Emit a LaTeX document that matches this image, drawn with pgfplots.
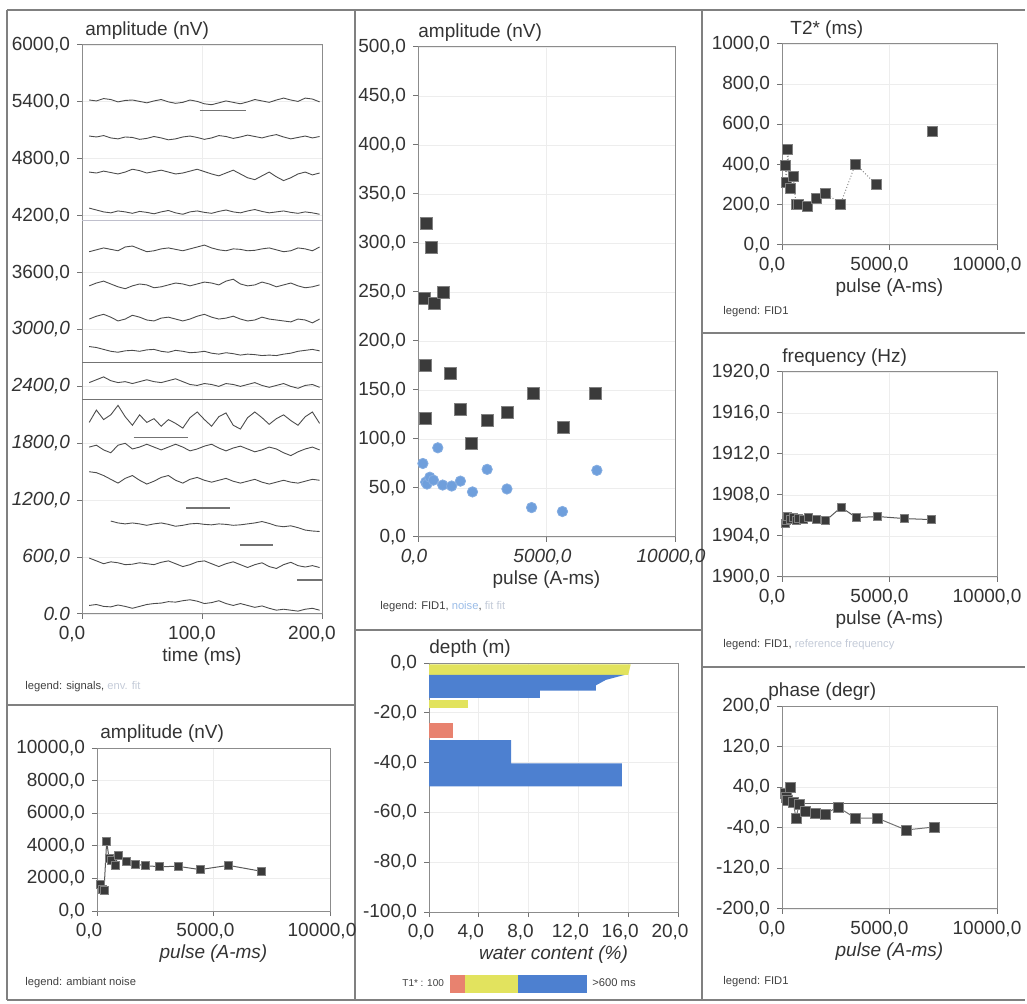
\documentclass[border=0pt]{standalone}
\usepackage{fontspec}
\setmainfont{Liberation Sans}
\usepackage{pgfplots}
\usepackage{pgfplotstable}
\pgfplotsset{compat=1.18}

\definecolor{fidgrey}{HTML}{3A3A3A}
\definecolor{noiseblue}{HTML}{6F9FDC}
\definecolor{layerblue}{HTML}{4D80D0}
\definecolor{layeryellow}{HTML}{E2E35E}
\definecolor{layerred}{HTML}{E8826F}
\definecolor{framegrey}{HTML}{808080}
\definecolor{fainttext}{HTML}{C4CBD8}

% recorded signals, one column per pulse moment (nV, offset for display)
\pgfplotstableread{
t   s1   s2   s3   s4   s5   s6   s7   s8   s9   s10  s11  s12  s13  s14  s15
6   5420 5040 4660 4280 3820 3460 3110 2820 2440 2020 1760 1500 nan  590  90
12  5410 5030 4650 4260 3840 3490 3140 2810 2470 2150 1780 1490 nan  560  100
18  5435 5045 4670 4240 3860 3510 3160 2790 2500 2050 1730 1460 nan  530  80
24  5425 5020 4655 4230 3845 3480 3130 2770 2460 2100 1700 1420 980  550  75
30  5400 5010 4640 4250 3830 3450 3090 2760 2440 2200 1780 1380 960  540  95
36  5415 5030 4660 4240 3870 3430 3110 2775 2450 2080 1800 1430 950  520  80
42  5420 5025 4690 4225 3880 3460 3150 2780 2430 1990 1740 1460 960  525  60
48  5405 5005 4675 4245 3850 3480 3130 2770 2450 2100 1760 1410 950  540  80
54  5390 5015 4650 4235 3820 3470 3100 2785 2470 2020 1790 1370 935  530  100
60  5410 5035 4665 4220 3830 3440 3090 2790 2450 2060 1760 1400 950  520  110
66  5425 5020 4680 4240 3850 3450 3120 2770 2440 1980 1730 1440 960  545  115
72  5400 5000 4660 4255 3860 3470 3130 2760 2460 2050 1760 1460 945  560  130
78  5385 5010 4640 4230 3845 3490 3110 2780 2480 2010 1790 1410 925  530  125
84  5395 5030 4650 4215 3830 3480 3090 2770 2450 1960 1760 1380 935  500  140
90  5420 5040 4670 4240 3850 3460 3110 2755 2420 2070 1720 1420 950  520  150
96  5405 5025 4690 4250 3870 3480 3140 2760 2410 2130 1740 1440 955  550  135
102 5380 5005 4665 4235 3890 3500 3160 2770 2430 2050 1770 1410 945  560  110
108 5370 5020 4640 4225 3860 3490 3130 2750 2420 1980 1790 1390 940  530  120
114 5390 5045 4620 4245 3840 3470 3110 2740 2400 2080 1750 1410 950  500  140
120 5410 5035 4650 4260 3830 3510 3120 2755 2430 2120 1720 1430 945  530  110
126 5395 5015 4680 4240 3850 3530 3140 2745 2420 1990 1750 1400 935  550  90
132 5380 5030 4640 4230 3845 3480 3110 2730 2400 1950 1770 1380 940  520  110
138 5400 5050 4600 4250 3830 3460 3090 2740 2420 2070 1740 1400 950  490  90
144 5425 5035 4580 4265 3835 3470 3100 2735 2440 2130 1710 1420 960  520  70
150 5410 5020 4620 4245 3850 3500 3130 2725 2410 2070 1730 1390 975  540  85
156 5395 5040 4660 4230 3860 3480 3110 2730 2390 2000 1760 1370 955  500  60
162 5420 5055 4610 4240 3840 3450 3100 2725 2410 2060 1740 1390 930  480  40
168 5440 5030 4570 4250 3820 3470 3090 2740 2430 2100 1700 1410 920  520  50
174 5420 5010 4600 4235 3830 3490 3080 2750 2400 2040 1670 1390 930  545  40
180 5405 5025 4640 4225 3860 3460 3110 2770 2380 1990 1710 1380 910  510  30
186 5440 5040 4660 4240 3850 3440 3100 2780 2410 2080 1740 1400 885  495  50
192 5430 5020 4630 4230 3830 3450 3070 2790 2420 2130 1760 1420 875  510  60
198 5400 5035 4650 4215 3870 3470 3110 2775 2390 2010 1730 1410 870  490  40
}\signals

\newcommand{\lblfont}{\fontsize{9.5}{11}\selectfont}
\newcommand{\legfont}{\fontsize{5.6}{6.5}\selectfont}

\pgfplotsset{
  panel/.style={
    scale only axis,
    anchor=north west,
    axis line style={draw=black!45, line width=0.5pt},
    tick align=outside,
    xtick pos=bottom, ytick pos=left,
    major tick length=2.5pt,
    tick style={draw=black!55, line width=0.5pt},
    ticklabel style={font=\lblfont, text=black!80},
    xticklabel style={xshift=-4pt},
    label style={font=\lblfont, text=black!80},
    xlabel style={yshift=4pt},
    title style={font=\lblfont, text=black!80, at={(0,1)}, anchor=south west, inner sep=0pt, yshift=-3.5pt},
    grid=major,
    grid style={draw=black!7, line width=0.4pt},
    scaled ticks=false,
    /pgf/number format/fixed,
    /pgf/number format/fixed zerofill,
    /pgf/number format/precision=1,
    /pgf/number format/use comma,
    /pgf/number format/1000 sep={},
    /pgf/number format/assume math mode=true,
  },
  fidmark/.style={mark=square*, mark options={fill=fidgrey, draw=black!50, line width=0.4pt, solid}},
  trace/.style={black!70, line width=0.45pt},
  envfit/.style={black!55, line width=0.6pt},
}

\begin{document}
\begin{tikzpicture}
\useasboundingbox (0,0) rectangle (513.5pt,-502pt);

% panel frames
\begin{scope}[framegrey, line width=0.8pt]
  \draw (3.5pt,-5pt) -- (3.5pt,-500pt);
  \draw (177.5pt,-5pt) -- (177.5pt,-500pt);
  \draw (351pt,-5pt) -- (351pt,-500pt);
  \draw (3.5pt,-5pt) -- (512.5pt,-5pt);
  \draw (3.5pt,-500pt) -- (512.5pt,-500pt);
  \draw (3.5pt,-352.5pt) -- (177.5pt,-352.5pt);
  \draw (177.5pt,-315pt) -- (351pt,-315pt);
  \draw (351pt,-166.5pt) -- (512.5pt,-166.5pt);
  \draw (351pt,-333.5pt) -- (512.5pt,-333.5pt);
\end{scope}

% ---------------- signals ----------------
\begin{axis}[panel, at={(41pt,-22.5pt)}, width=120pt, height=284.5pt,
  xmin=0, xmax=200, ymin=0, ymax=6000,
  xtick={0,100,200}, ytick={0,600,...,6000},
  xticklabels={{0,0},{100,0},{200,0}},
  yticklabels={{\itshape 0.0},{\itshape 600,0},{\itshape 1200,0},{\itshape 1800,0},{\itshape 2400,0},{\itshape 3000,0},{3600,0},{4200,0},{4800,0},{5400,0},{6000,0}},
  xticklabel style={xshift=-1pt},
  title style={xshift=1.5pt},
  title={amplitude (nV)}, xlabel={time (ms)}]
  \pgfplotsinvokeforeach{1,...,15}{\addplot[trace] table[x=t, y=s#1] {\signals};}
  % envelope fit levels
  \addplot[envfit] coordinates {(0,2650) (200,2650)};
  \addplot[envfit] coordinates {(0,2260) (200,2260)};
  \addplot[envfit] coordinates {(43,1865) (88,1865)};
  \addplot[envfit] coordinates {(87,1117) (123,1117)};
  \addplot[envfit] coordinates {(132,727) (159,727)};
  \addplot[envfit] coordinates {(179,358) (200,358)};
  \addplot[envfit] coordinates {(98,5310) (137,5310)};
  \addplot[blue!20!black!25, line width=0.6pt] coordinates {(0,4150) (200,4150)};
\end{axis}

% ---------------- ambient noise ----------------
\begin{axis}[panel, at={(48.5pt,-374pt)}, width=116.5pt, height=81.5pt,
  xmin=0, xmax=10000, ymin=0, ymax=10000,
  xtick={0,5000,10000}, ytick={0,2000,...,10000},
  title style={xshift=1.5pt},
  title={amplitude (nV)}, xlabel={\itshape pulse (A-ms)}]
  \addplot[black!65, line width=0.5pt, fidmark, mark size=2pt] coordinates {
    (150,1640) (230,1340) (300,1240) (415,4280) (520,3200) (630,3080)
    (770,2800) (915,3400) (1270,3040) (1630,2880) (2060,2780) (2680,2720)
    (3490,2740) (4420,2540) (5640,2800) (7040,2440)};
\end{axis}

% ---------------- amplitude FID1 / noise ----------------
\begin{axis}[panel, at={(209pt,-23.5pt)}, width=128.5pt, height=245pt,
  xmin=0, xmax=10000, ymin=0, ymax=500,
  xtick={0,5000,10000}, ytick={0,50,...,500},
  xticklabel style={font=\lblfont\itshape, xshift=2pt},
  title={amplitude (nV)}, xlabel={pulse (A-ms)}]
  \addplot[only marks, mark=*, mark size=2.6pt, mark options={fill=noiseblue, draw=noiseblue!85!white}] coordinates {
    (190,75) (300,56) (350,54) (460,61) (600,58) (770,91) (960,53) (1310,52)
    (1650,57) (2120,46) (2690,69) (3460,49) (4420,30) (5620,26) (6960,68)};
  \addplot[only marks, fidmark, mark size=3pt] coordinates {
    (230,243) (270,175) (270,121) (310,320) (540,295) (650,238) (1000,250)
    (1270,167) (1650,130) (2080,96) (2700,119) (3460,127) (4500,147)
    (5650,112) (6920,147)};
\end{axis}

% ---------------- water content ----------------
\begin{axis}[panel, at={(214.5pt,-331.5pt)}, width=124.5pt, height=124.5pt,
  xmin=0, xmax=20, ymin=-100, ymax=0,
  xtick={0,4,...,20}, ytick={-100,-80,...,0},
  title={depth (m)}, xlabel={\itshape water content (\%)}]
  \addplot[fill=layeryellow, draw=none] coordinates {(0,-0.6) (16.2,-0.6) (16.0,-4.8) (0,-4.8)} -- cycle;
  \addplot[fill=layerblue, draw=none] coordinates {(0,-4.8) (15.7,-4.8) (14.2,-6.8) (13.4,-9) (13.4,-11.1) (8.9,-11.1) (8.9,-14) (0,-14)} -- cycle;
  \addplot[fill=layeryellow, draw=none] coordinates {(0,-14.9) (3.1,-14.9) (3.1,-18.2) (0,-18.2)} -- cycle;
  \addplot[fill=layerred, draw=none] coordinates {(0,-24) (1.95,-24) (1.95,-30.2) (0,-30.2)} -- cycle;
  \addplot[fill=layerblue, draw=none] coordinates {(0,-31) (6.6,-31) (6.6,-40.3) (15.5,-40.3) (15.5,-49.5) (0,-49.5)} -- cycle;
\end{axis}

% ---------------- T2* ----------------
\begin{axis}[panel, at={(391pt,-22pt)}, width=107.5pt, height=100.5pt,
  xmin=0, xmax=10000, ymin=0, ymax=1000,
  xtick={0,5000,10000}, ytick={0,200,...,1000},
  xticklabel style={xshift=-1pt},
  title style={xshift=4pt},
  title={T2* (ms)}, xlabel={pulse (A-ms)}]
  \addplot[black!45, densely dotted, line width=0.5pt, fidmark, mark size=2.5pt] coordinates {
    (150,398) (200,313) (270,478) (380,283) (520,343) (650,200) (780,204)
    (1200,194) (1620,234) (2030,259) (2720,204) (3420,403) (4400,299)};
  \addplot[only marks, fidmark, mark size=2.5pt] coordinates {(6980,563)};
\end{axis}

% ---------------- frequency ----------------
\begin{axis}[panel, at={(391pt,-186pt)}, width=107.5pt, height=102.5pt,
  xmin=0, xmax=10000, ymin=1900, ymax=1920,
  xtick={0,5000,10000}, ytick={1900,1904,...,1920},
  xticklabel style={xshift=-1pt},
  title={frequency (Hz)}, xlabel={pulse (A-ms)}]
  \addplot[black!65, line width=0.5pt, fidmark, mark size=2pt] coordinates {
    (150,1905.2) (200,1905.5) (270,1905.9) (380,1905.6) (520,1905.8) (650,1905.5)
    (780,1905.7) (1000,1905.6) (1250,1905.8) (1620,1905.6) (2030,1905.5)
    (2750,1906.8) (3450,1905.8) (4450,1905.9) (5700,1905.7) (6950,1905.6)};
\end{axis}

% ---------------- phase ----------------
\begin{axis}[panel, at={(391pt,-353pt)}, width=107.5pt, height=101.5pt,
  xmin=0, xmax=10000, ymin=-200, ymax=200,
  xtick={0,5000,10000}, ytick={-200,-120,...,200},
  xticklabel style={xshift=-1pt},
  title style={xshift=-7pt},
  title={phase (degr)}, xlabel={\itshape pulse (A-ms)}]
  \addplot[black!60, line width=0.6pt] coordinates {(0,8) (10000,8)};
  \addplot[black!55, line width=0.5pt, fidmark, mark size=2.5pt] coordinates {
    (150,28.6) (200,20.7) (270,14.8) (380,40.4) (520,10.8) (650,-20.7) (800,6.9)
    (1100,-6.9) (1530,-10.8) (2000,-12.8) (2600,1.0) (3400,-20.7) (4420,-20.7)
    (5770,-44.3) (7070,-38.4)};
\end{axis}

% ---------------- legends ----------------
\begin{scope}[every node/.style={font=\legfont, text=black!75, anchor=west, inner sep=0pt}]
  \node at (12.5pt,-343.5pt) {legend: signals, \textcolor{fainttext}{env. fit}};
  \node at (12.5pt,-491.5pt) {legend: ambiant noise};
  \node at (190pt,-303.5pt) {legend: FID1, \textcolor{noiseblue!70!white}{noise}, \textcolor{fainttext}{fit fit}};
  \node at (361.5pt,-156pt) {legend: FID1};
  \node at (361.5pt,-322.5pt) {legend: FID1, \textcolor{fainttext}{reference frequency}};
  \node at (361.5pt,-491pt) {legend: FID1};
  \node[font=\fontsize{5}{6}\selectfont] at (201pt,-491.5pt) {T1* : 100};
  \node at (296pt,-491.5pt) {>600 ms};
\end{scope}
% T1* colour scale
\fill[layerred] (225pt,-487.5pt) rectangle (232.5pt,-496.5pt);
\fill[layeryellow] (232.5pt,-487.5pt) rectangle (259pt,-496.5pt);
\fill[layerblue] (259pt,-487.5pt) rectangle (293.5pt,-496.5pt);

\end{tikzpicture}
\end{document}
